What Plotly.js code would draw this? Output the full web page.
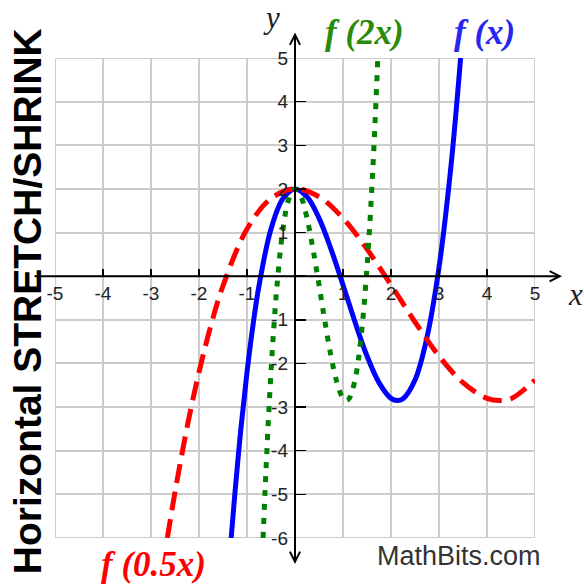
<!DOCTYPE html>
<html>
<head>
<meta charset="utf-8">
<script src="https://cdn.plot.ly/plotly-3.0.1.min.js"></script>
<style>
  html, body { margin: 0; padding: 0; background: #fff; }
  #chart { width: 584px; height: 584px; }
</style>
</head>
<body>
<div id="chart"></div>
<script>
// Tick positions and labels along the two axes
const xTickVals = [-5, -4, -3, -2, -1, 0, 1, 2, 3, 4, 5];
const xTickText = ['-5', '-4', '-3', '-2', '-1', '', '1', '2', '3', '4', '5'];
const yTickVals = [-6, -5, -4, -3, -2, -1, 0, 1, 2, 3, 4, 5];
const yTickText = ['-6', '-5', '-4', '-3', '-2', '-1', '', '1', '2', '3', '4', '5'];

// f(x): the original cubic
const fX = [-1.33, -1.25, -1.125, -1.0, -0.875, -0.75, -0.5, -0.25, 0, 0.25, 0.5, 0.75, 1.0, 1.25, 1.5, 1.75, 2.0, 2.13, 2.25, 2.5, 2.75, 3.0, 3.25, 3.45];
const fY = [-6.0, -4.95, -3.47, -2.2, -1.12, -0.22, 1.08, 1.78, 2.0, 1.82, 1.33, 0.62, -0.2, -1.05, -1.83, -2.44, -2.8, -2.85, -2.81, -2.38, -1.4, 0.2, 2.53, 5.0];

// f(2x): horizontal shrink
const f2xX = [-0.665, -0.625, -0.5625, -0.5, -0.4375, -0.375, -0.25, -0.125, 0, 0.125, 0.25, 0.375, 0.5, 0.625, 0.75, 0.875, 1.0, 1.065, 1.125, 1.25, 1.375, 1.5, 1.625, 1.725];
const f2xY = [-6.0, -4.95, -3.47, -2.2, -1.12, -0.22, 1.08, 1.78, 2.0, 1.82, 1.33, 0.62, -0.2, -1.05, -1.83, -2.44, -2.8, -2.85, -2.81, -2.38, -1.4, 0.2, 2.53, 5.0];

// f(0.5x): horizontal stretch
const fHalfX = [-2.66, -2.5, -2.25, -2.0, -1.75, -1.5, -1.0, -0.5, 0, 0.5, 1.0, 1.5, 2.0, 2.5, 3.0, 3.5, 4.0, 4.26, 4.5, 5.0];
const fHalfY = [-6.0, -4.95, -3.47, -2.2, -1.12, -0.22, 1.08, 1.78, 2.0, 1.82, 1.33, 0.62, -0.2, -1.05, -1.83, -2.44, -2.8, -2.85, -2.81, -2.38];

const traces = [
  {
    x: fX, y: fY, type: 'scatter', mode: 'lines', name: 'f (x)',
    line: { color: '#0000ff', width: 5, shape: 'spline', smoothing: 1 },
    hoverinfo: 'skip'
  },
  {
    x: fHalfX, y: fHalfY, type: 'scatter', mode: 'lines', name: 'f (0.5x)',
    line: { color: '#ff0000', width: 5, dash: '19px,9px', shape: 'spline', smoothing: 1 },
    hoverinfo: 'skip'
  },
  {
    x: f2xX, y: f2xY, type: 'scatter', mode: 'lines', name: 'f (2x)',
    line: { color: '#008000', width: 5, dash: '6px,8px', shape: 'spline', smoothing: 1 },
    hoverinfo: 'skip'
  }
];

const tickFont = { family: 'Liberation Sans, Arial, sans-serif', size: 19, color: '#222' };
const labelFont = (c) => ({ family: 'Liberation Serif, Times New Roman, serif', size: 35, color: c, weight: 'bold', style: 'italic' });

const layout = {
  width: 584,
  height: 584,
  margin: { l: 55, r: 49, t: 57.5, b: 46, pad: 0 },
  paper_bgcolor: '#ffffff',
  plot_bgcolor: '#ffffff',
  showlegend: false,
  xaxis: {
    range: [-5, 5],
    fixedrange: true,
    tickmode: 'array',
    tickvals: xTickVals,
    ticktext: xTickText,
    showgrid: true,
    gridcolor: '#cccccc',
    gridwidth: 2,
    zeroline: false,
    showline: false,
    anchor: 'free',
    position: 6 / 11,
    ticks: 'inside',
    ticklen: 7,
    tickwidth: 1.5,
    tickcolor: '#000',
    ticklabelstandoff: 4,
    tickfont: tickFont
  },
  yaxis: {
    range: [-6, 5],
    fixedrange: true,
    tickmode: 'array',
    tickvals: yTickVals,
    ticktext: yTickText,
    showgrid: true,
    gridcolor: '#cccccc',
    gridwidth: 2,
    zeroline: false,
    showline: false,
    anchor: 'free',
    position: 0.5,
    ticks: 'inside',
    ticklen: 10,
    tickwidth: 1.5,
    tickcolor: '#000',
    ticklabelstandoff: 7,
    tickfont: tickFont
  },
  shapes: [
    {
      type: 'rect', xref: 'x', yref: 'y', x0: -5, x1: 5, y0: -6, y1: 5,
      line: { color: '#cccccc', width: 2 }, layer: 'below'
    }
  ],
  annotations: [
    // x axis with arrow on the right
    {
      xref: 'paper', yref: 'y', x: (562 - 55) / 480, y: 0,
      ax: -(562 - 33), ay: 0, text: '', showarrow: true,
      arrowhead: 5, arrowsize: 1, arrowwidth: 2, arrowcolor: '#000', standoff: 0
    },
    // y axis with arrows at both ends
    {
      xref: 'x', yref: 'paper', x: 0, y: (538 - 32) / 480.5,
      ax: 0, ay: 533, text: '', showarrow: true, arrowside: 'end+start',
      arrowhead: 5, startarrowhead: 5, arrowsize: 1, startarrowsize: 1,
      arrowwidth: 2, arrowcolor: '#000', standoff: 0, startstandoff: 0
    },
    {
      xref: 'paper', yref: 'paper', x: (271 - 55) / 480, y: (538 - 17) / 480.5,
      text: 'y', showarrow: false, xanchor: 'center', yanchor: 'middle',
      font: { family: 'Liberation Serif, Times New Roman, serif', size: 31, color: '#222', style: 'italic' }
    },
    {
      xref: 'paper', yref: 'paper', x: (575 - 55) / 480, y: (538 - 294) / 480.5,
      text: 'x', showarrow: false, xanchor: 'center', yanchor: 'middle',
      font: { family: 'Liberation Serif, Times New Roman, serif', size: 31, color: '#222', style: 'italic' }
    },
    {
      xref: 'paper', yref: 'paper', x: (364 - 55) / 480, y: (538 - 32) / 480.5,
      text: 'f (2x)', showarrow: false, xanchor: 'center', yanchor: 'middle',
      font: labelFont('#2a8a0a')
    },
    {
      xref: 'paper', yref: 'paper', x: (484 - 55) / 480, y: (538 - 32) / 480.5,
      text: 'f (x)', showarrow: false, xanchor: 'center', yanchor: 'middle',
      font: labelFont('#2626f0')
    },
    {
      xref: 'paper', yref: 'paper', x: (153 - 55) / 480, y: (538 - 565) / 480.5,
      text: 'f (0.5x)', showarrow: false, xanchor: 'center', yanchor: 'middle',
      font: labelFont('#ff0000')
    },
    {
      xref: 'paper', yref: 'paper', x: (459 - 55) / 480, y: (538 - 556) / 480.5,
      text: 'MathBits.com', showarrow: false, xanchor: 'center', yanchor: 'middle',
      font: { family: 'Liberation Sans, Arial, sans-serif', size: 27, color: '#333' }
    },
    {
      xref: 'paper', yref: 'paper', x: (27 - 55) / 480, y: (538 - 301) / 480.5,
      text: 'Horizontal STRETCH/SHRINK', showarrow: false, textangle: -90,
      xanchor: 'center', yanchor: 'middle',
      font: { family: 'Liberation Sans, Arial, sans-serif', size: 39, color: '#000', weight: 'bold' }
    }
  ]
};

Plotly.newPlot('chart', traces, layout, { staticPlot: true, displayModeBar: false });
</script>
</body>
</html>
